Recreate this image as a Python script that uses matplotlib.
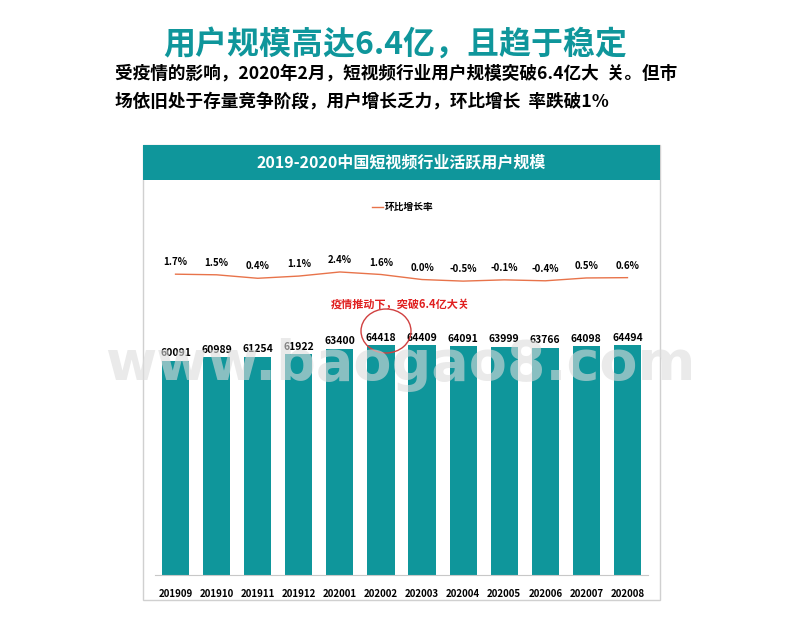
import matplotlib
matplotlib.use("Agg")
import matplotlib.pyplot as plt
from matplotlib.patches import Rectangle, Ellipse
from matplotlib import font_manager

months = ["201909","201910","201911","201912","202001","202002","202003","202004","202005","202006","202007","202008"]
users = [60091,60989,61254,61922,63400,64418,64409,64091,63999,63766,64098,64494]
growth = [1.7,1.5,0.4,1.1,2.4,1.6,0.0,-0.5,-0.1,-0.4,0.5,0.6]

names = {f.name for f in font_manager.fontManager.ttflist}
FONT = next((n for n in ["Noto Sans CJK SC", "Noto Sans CJK JP", "Noto Sans CJK TC", "Noto Sans CJK KR"] if n in names), "DejaVu Sans")
if FONT == "DejaVu Sans":
    for f in font_manager.fontManager.ttflist:
        if "CJK" in f.name or "CJK" in f.fname:
            FONT = f.name
            break
plt.rcParams["font.family"] = [FONT, "DejaVu Sans"]
W, H = 800, 640
fig = plt.figure(figsize=(8, 6.4), dpi=100)
TEAL = "#0f969b"

def fx(x): return x / W
def fy(y): return 1 - y / H

fig.text(fx(395), fy(45), "用户规模高达6.4亿，且趋于稳定", color=TEAL, fontsize=23, fontweight="bold", ha="center", va="center", family=FONT)
fig.text(fx(115), fy(73), "受疫情的影响，2020年2月，短视频行业用户规模突破6.4亿大  关。但市", fontsize=12.7, fontweight="bold", ha="left", va="center", family=FONT)
fig.text(fx(115), fy(101), "场依旧处于存量竞争阶段，用户增长乏力，环比增长  率跌破1%", fontsize=12.7, fontweight="bold", ha="left", va="center", family=FONT)

fig.patches.append(Rectangle((fx(143), fy(600)), fx(660)-fx(143), fy(145)-fy(600), transform=fig.transFigure,
                             facecolor="white", edgecolor="#d0d0d0", lw=1, zorder=-5))
fig.patches.append(Rectangle((fx(143), fy(180)), fx(660)-fx(143), fy(145)-fy(180), transform=fig.transFigure,
                             facecolor=TEAL, edgecolor="none", zorder=-4))
fig.text(fx(401), fy(162), "2019-2020中国短视频行业活跃用户规模", color="white", fontsize=11.5, fontweight="bold", ha="center", va="center", family=FONT)

left, right = 155, 648
ax = fig.add_axes([fx(left), fy(575), fx(right)-fx(left), fy(345)-fy(575)])
x = range(len(months))
ax.bar(x, users, width=0.66, color=TEAL, zorder=2)
for i, v in enumerate(users):
    ax.text(i, v + 700, str(v), ha="center", va="bottom", fontsize=7.5, fontweight="bold", family=FONT)
ax.set_xlim(-0.5, len(months) - 0.5)
ax.set_ylim(0, 64494)
ax.set_xticks(list(x))
ax.set_xticklabels(months, fontsize=7, fontweight="bold", family=FONT)
ax.tick_params(length=0, pad=10)
ax.set_yticks([])
for s in ["top", "left", "right"]:
    ax.spines[s].set_visible(False)
ax.spines["bottom"].set_color("#c8c8c8")
ax.patch.set_alpha(0)

ax2 = fig.add_axes([fx(left), fy(289), fx(right)-fx(left), fy(248)-fy(289)])
ax2.plot(list(x), growth, color="#e8734a", lw=1)
for i, v in enumerate(growth):
    ax2.text(i, v + 2.2, f"{v:.1f}%", ha="center", va="bottom", fontsize=7, fontweight="bold", family=FONT)
ax2.set_xlim(-0.5, len(months) - 0.5)
ax2.set_ylim(-3, 10)
ax2.axis("off")

fig.lines.append(plt.Line2D([fx(372), fx(383)], [fy(207), fy(207)], transform=fig.transFigure, color="#e8734a", lw=1))
fig.text(fx(385), fy(207), "环比增长率", fontsize=7, fontweight="bold", ha="left", va="center", family=FONT)

fig.text(fx(400), fy(304), "疫情推动下，突破6.4亿大关", color="#e02020", fontsize=8, fontweight="bold", ha="center", va="center", family=FONT)
fig.patches.append(Ellipse((fx(386), fy(331)), fx(50), fy(0)-fy(44), transform=fig.transFigure,
                           facecolor="none", edgecolor="#d04040", lw=1, zorder=5))

fig.text(fx(400), fy(365), "www.baogao8.com", color="#dcdcdc", alpha=0.6, fontsize=40, fontweight="bold",
         ha="center", va="center", family="DejaVu Sans", zorder=10)

fig.savefig("out.png", dpi=100, facecolor="white")
